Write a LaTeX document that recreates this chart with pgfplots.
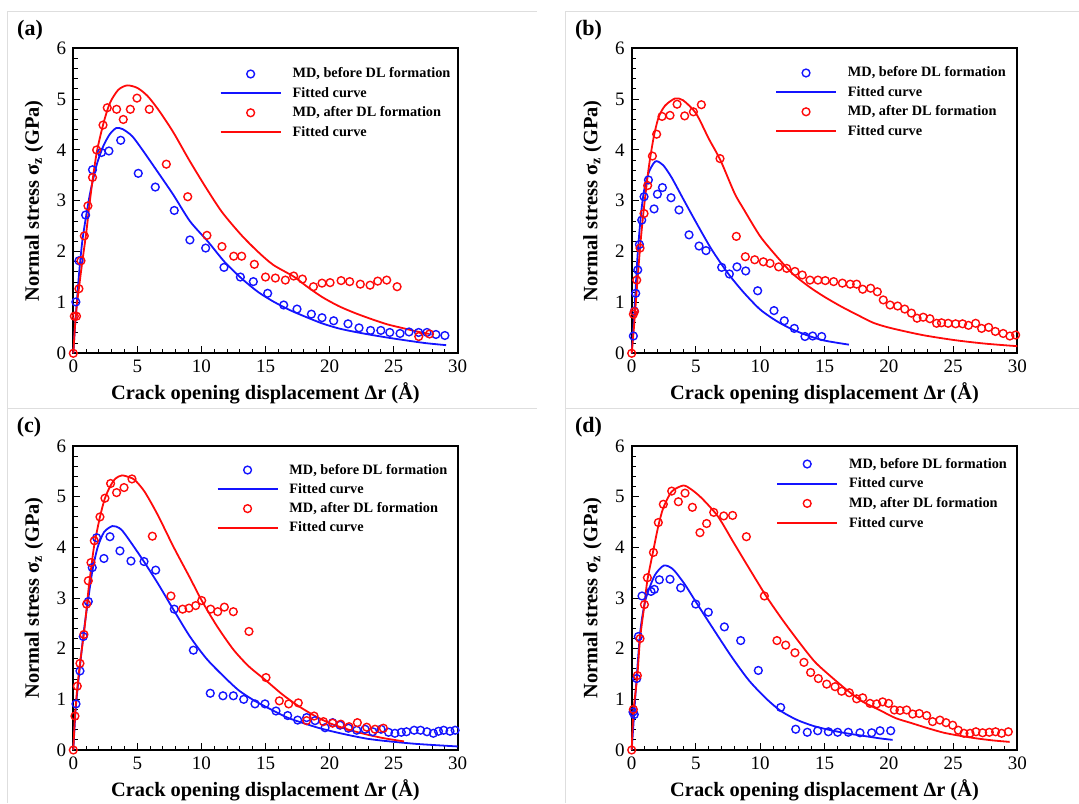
\documentclass[border=0pt]{standalone}
\usepackage{fontspec}
\setmainfont{Liberation Serif}
\usepackage{pgfplots}
\pgfplotsset{compat=1.18}
\definecolor{mdblue}{RGB}{20,20,255}
\definecolor{mdred}{RGB}{255,10,10}
\definecolor{framegray}{RGB}{222,222,222}
\pgfplotsset{
  panel/.style={
    scale only axis,
    xmin=0, xmax=30, ymin=0, ymax=6,
    xtick={0,5,...,30}, ytick={0,1,...,6},
    minor x tick num=4, minor y tick num=4,
    xtick pos=bottom, ytick pos=left,
    tick align=inside,
    major tick length=3.5pt, minor tick length=2.2pt,
    tick style={black, line width=0.5pt},
    axis line style={line width=0.95pt},
    clip=false,
    /pgf/number format/assume math mode=true,
    tick label style={font=\fontsize{9.5}{10}\selectfont},
    xlabel={Crack opening displacement Δr (Å)},
    ylabel={Normal stress σ\textsubscript{z} (GPa)},
    xlabel style={at={(axis description cs:0.5,-0.131)}, anchor=center, font=\fontsize{10.2}{12}\bfseries\selectfont},
    ylabel style={at={(axis description cs:-0.102,0.5)}, anchor=center, font=\fontsize{10.2}{12}\bfseries\selectfont},
    legend cell align=left,
    legend style={draw=none, fill=none, inner sep=0pt, outer sep=0pt, anchor=north west,
      row sep=2.7pt, font=\fontsize{7.15}{8}\bfseries\selectfont,
      nodes={inner sep=0pt, text height=5.5pt, text depth=1.5pt},
      /tikz/column 1/.style={column sep=5.5pt}},
  },
  mdpts/.style={only marks, mark=o, mark size=1.95pt, mark options={line width=0.7pt},
    legend image code/.code={\draw[mark repeat=2,mark phase=2,##1] plot coordinates {(0pt,0pt)(15pt,0pt)(30pt,0pt)};}},
  fitc/.style={no marks, line width=0.9pt, smooth, tension=0.45,
    legend image code/.code={\draw[##1, line width=0.9pt] (0pt,0pt) -- (30pt,0pt);}},
}
\begin{document}
\begin{tikzpicture}[x=0.5pt,y=0.5pt]
\useasboundingbox (0,0) rectangle (1079,803);
\draw[framegray, line width=0.5pt] (7,0) -- (7,791) -- (537,791);
\draw[framegray, line width=0.5pt] (7,394) -- (537,394);
\draw[framegray, line width=0.5pt] (565.7,0) -- (565.7,791) -- (1079,791);
\draw[framegray, line width=0.5pt] (565.7,394) -- (1079,394);
\node[font=\fontsize{11}{12}\bfseries\selectfont] at (30,773) {(a)};
\node[font=\fontsize{11}{12}\bfseries\selectfont] at (588.5,773) {(b)};
\node[font=\fontsize{11}{12}\bfseries\selectfont] at (29,376) {(c)};
\node[font=\fontsize{11}{12}\bfseries\selectfont] at (588.5,376) {(d)};

% ---------------- (a)
\begin{axis}[panel, at={(36.65pt,224.85pt)}, anchor=south west, width=192.2pt, height=152.5pt,
  legend style={at={(axis description cs:0.381,0.9387)}}]
\addplot[mdpts, mdblue] coordinates {(0.2,1.01) (0.44,1.82) (0.96,2.72) (1.5,3.61) (2.2,3.95) (2.78,3.98) (3.7,4.19) (5.07,3.54) (6.4,3.27) (7.88,2.81) (9.1,2.23) (10.33,2.07) (11.76,1.69) (13.04,1.5) (14.05,1.41) (15.17,1.18) (16.42,0.95) (17.46,0.87) (18.58,0.77) (19.41,0.7) (20.32,0.64) (21.44,0.58) (22.3,0.5) (23.2,0.45) (24.0,0.45) (24.7,0.41) (25.5,0.39) (26.2,0.42) (26.95,0.41) (27.6,0.41) (28.3,0.37) (29.0,0.35)};
\addlegendentry{MD, before DL formation}
\addplot[fitc, mdblue] coordinates {(0,0) (0.13,0.52) (0.25,0.92) (0.45,1.57) (0.7,2.2) (1.0,2.7) (1.35,3.2) (1.85,3.73) (2.35,4.08) (2.85,4.31) (3.35,4.43) (3.85,4.41) (4.6,4.27) (5.4,4.0) (6.5,3.6) (7.8,3.12) (9.1,2.6) (10.5,2.2) (11.8,1.8) (13.1,1.48) (14.4,1.21) (15.6,1.02) (16.9,0.85) (18.2,0.71) (19.4,0.59) (20.7,0.49) (22,0.42) (23.3,0.36) (24.5,0.31) (25.8,0.26) (27.5,0.2) (29.1,0.16)};
\addlegendentry{Fitted curve}
\addplot[mdpts, mdred] coordinates {(0,0) (0.08,0.73) (0.25,0.73) (0.44,1.27) (0.6,1.82) (0.86,2.31) (1.14,2.9) (1.5,3.46) (1.82,4.0) (2.32,4.49) (2.65,4.83) (3.38,4.8) (3.9,4.6) (4.45,4.8) (4.97,5.02) (5.93,4.8) (7.26,3.72) (8.93,3.08) (10.43,2.32) (11.6,2.1) (12.52,1.91) (13.14,1.91) (14.13,1.75) (15.0,1.5) (15.77,1.48) (16.55,1.44) (17.2,1.52) (17.88,1.46) (18.74,1.31) (19.41,1.38) (20.04,1.39) (20.9,1.43) (21.57,1.41) (22.4,1.36) (23.16,1.34) (23.76,1.42) (24.46,1.44) (25.27,1.31) (26.96,0.33) (27.8,0.38)};
\addlegendentry{MD, after DL formation}
\addplot[fitc, mdred] coordinates {(0,0) (0.15,0.6) (0.3,1.0) (0.45,1.3) (0.7,1.8) (1.0,2.35) (1.25,2.9) (1.5,3.4) (1.85,3.98) (2.35,4.52) (2.85,4.92) (3.5,5.18) (4.2,5.27) (5.0,5.22) (5.8,5.06) (6.7,4.77) (7.8,4.35) (9.0,3.82) (10.3,3.28) (11.6,2.78) (13.1,2.33) (14.4,2.0) (15.6,1.74) (17.2,1.51) (18.2,1.32) (19.4,1.11) (20.7,0.93) (22,0.79) (23.3,0.67) (24.5,0.57) (25.8,0.49) (26.8,0.43) (27.8,0.38)};
\addlegendentry{Fitted curve}
\end{axis}

% ---------------- (b)
\begin{axis}[panel, at={(315.85pt,224.85pt)}, anchor=south west, width=192.8pt, height=152.5pt,
  legend style={at={(axis description cs:0.372,0.942)}}]
\addplot[mdpts, mdblue] coordinates {(0.13,0.34) (0.21,0.83) (0.31,1.18) (0.47,1.64) (0.6,2.14) (0.78,2.62) (0.96,3.08) (1.3,3.41) (1.74,2.84) (2.0,3.13) (2.39,3.26) (3.06,3.06) (3.68,2.82) (4.46,2.33) (5.24,2.11) (5.78,2.02) (7.0,1.69) (7.6,1.56) (8.19,1.7) (8.87,1.62) (9.8,1.23) (11.07,0.84) (11.87,0.64) (12.65,0.49) (13.48,0.33) (14.08,0.34) (14.78,0.33)};
\addlegendentry{MD, before DL formation}
\addplot[fitc, mdblue] coordinates {(0,0) (0.2,0.78) (0.45,1.9) (0.7,2.68) (0.96,3.2) (1.33,3.56) (1.71,3.74) (1.95,3.78) (2.45,3.7) (3.1,3.46) (4.0,3.04) (5.0,2.58) (6.2,2.05) (7.5,1.57) (8.7,1.2) (10,0.86) (11.3,0.63) (12.5,0.47) (13.8,0.34) (15,0.25) (16.9,0.17)};
\addlegendentry{Fitted curve}
\addplot[mdpts, mdred] coordinates {(0,0) (0.13,0.77) (0.21,0.82) (0.39,1.44) (0.65,2.07) (0.96,2.75) (1.24,3.3) (1.61,3.88) (1.94,4.31) (2.36,4.66) (2.98,4.68) (3.53,4.9) (4.12,4.67) (4.8,4.75) (5.42,4.89) (6.87,3.83) (8.14,2.3) (8.84,1.9) (9.57,1.84) (10.24,1.8) (10.76,1.77) (11.43,1.7) (12.06,1.67) (12.7,1.61) (13.27,1.54) (13.87,1.44) (14.49,1.44) (15.06,1.43) (15.71,1.41) (16.39,1.38) (17.0,1.36) (17.5,1.36) (17.97,1.26) (18.59,1.28) (19.11,1.21) (19.57,1.05) (20.1,0.95) (20.69,0.93) (21.24,0.87) (21.76,0.79) (22.2,0.69) (22.68,0.71) (23.2,0.68) (23.72,0.59) (24.1,0.6) (24.62,0.59) (25.2,0.58) (25.74,0.58) (26.2,0.55) (26.76,0.59) (27.22,0.49) (27.77,0.51) (28.29,0.43) (28.9,0.39) (29.42,0.34) (29.87,0.36)};
\addlegendentry{MD, after DL formation}
\addplot[fitc, mdred] coordinates {(0,0) (0.2,0.59) (0.45,1.44) (0.7,2.22) (0.96,2.88) (1.33,3.66) (1.71,4.25) (2.09,4.64) (2.59,4.87) (3.35,5.01) (3.98,4.98) (5.0,4.72) (6.0,4.22) (6.9,3.8) (8.0,3.15) (8.7,2.84) (10,2.3) (11.3,1.9) (12.5,1.57) (13.8,1.31) (15,1.11) (16.3,0.92) (17.6,0.75) (18.8,0.6) (20.1,0.5) (22.6,0.36) (25.1,0.26) (27.5,0.19) (30,0.14)};
\addlegendentry{Fitted curve}
\end{axis}

% ---------------- (c)
\begin{axis}[panel, at={(36.65pt,26.5pt)}, anchor=south west, width=192.2pt, height=152pt,
  legend style={at={(axis description cs:0.373,0.944)}, row sep=2.65pt}]
\addplot[mdpts, mdblue] coordinates {(0.21,0.91) (0.52,1.56) (0.78,2.24) (1.17,2.93) (1.48,3.6) (1.82,4.19) (2.39,3.78) (2.86,4.21) (3.64,3.93) (4.5,3.73) (5.52,3.72) (6.43,3.55) (7.88,2.78) (9.37,1.97) (10.69,1.12) (11.68,1.07) (12.49,1.07) (13.3,1.0) (14.18,0.91) (14.96,0.91) (15.82,0.77) (16.73,0.68) (17.51,0.59) (18.21,0.64) (18.87,0.58) (19.65,0.44) (20.24,0.54) (20.82,0.49) (21.47,0.43) (22.12,0.39) (22.77,0.41) (23.37,0.36) (24.02,0.41) (24.6,0.35) (25.1,0.33) (25.6,0.35) (26.0,0.36) (26.6,0.39) (27.1,0.39) (27.6,0.36) (28.1,0.33) (28.5,0.37) (28.9,0.39) (29.4,0.37) (29.8,0.39)};
\addlegendentry{MD, before DL formation}
\addplot[fitc, mdblue] coordinates {(0,0) (0.2,0.85) (0.5,1.6) (0.8,2.3) (1.15,2.95) (1.5,3.55) (1.9,4.0) (2.4,4.3) (3.05,4.42) (3.6,4.38) (4.04,4.26) (5.3,3.8) (6.57,3.3) (7.84,2.76) (9.1,2.24) (10.37,1.81) (11.63,1.48) (12.9,1.18) (14.16,0.97) (15.43,0.8) (16.7,0.64) (17.96,0.53) (19.23,0.43) (20.5,0.35) (21.76,0.28) (23,0.22) (24.29,0.18) (26.8,0.12) (30,0.07)};
\addlegendentry{Fitted curve}
\addplot[mdpts, mdred] coordinates {(0,0) (0.13,0.67) (0.31,1.26) (0.52,1.71) (0.83,2.28) (1.04,2.88) (1.17,3.34) (1.38,3.7) (1.64,4.13) (2.08,4.6) (2.47,4.97) (2.91,5.26) (3.38,5.08) (3.96,5.18) (4.58,5.35) (6.17,4.22) (7.62,3.04) (8.53,2.78) (9.03,2.8) (9.55,2.85) (10.02,2.95) (10.72,2.78) (11.27,2.73) (11.79,2.82) (12.49,2.73) (13.71,2.34) (15.04,1.43) (16.08,0.97) (16.81,0.91) (17.56,0.93) (18.21,0.58) (18.79,0.67) (19.52,0.56) (20.24,0.53) (20.87,0.51) (21.52,0.46) (22.17,0.54) (22.9,0.45) (23.55,0.41) (24.2,0.43)};
\addlegendentry{MD, after DL formation}
\addplot[fitc, mdred] coordinates {(0,0) (0.13,0.67) (0.31,1.22) (0.52,1.71) (0.83,2.3) (1.04,2.8) (1.2,3.2) (1.4,3.6) (1.64,4.05) (2.08,4.6) (2.47,4.97) (2.91,5.22) (3.3,5.36) (3.8,5.42) (4.4,5.38) (4.8,5.33) (5.56,5.1) (6.57,4.65) (7.84,4.0) (9.1,3.4) (10,2.96) (11.2,2.45) (12.5,1.98) (13.7,1.65) (15,1.38) (16.3,1.1) (17.5,0.88) (18.8,0.68) (20,0.53) (21.5,0.4) (23,0.3) (24.3,0.23) (25.8,0.17)};
\addlegendentry{Fitted curve}
\end{axis}

% ---------------- (d)
\begin{axis}[panel, at={(315.85pt,26.5pt)}, anchor=south west, width=192.8pt, height=152pt,
  legend style={at={(axis description cs:0.375,0.9638)}, row sep=2.85pt}]
\addplot[mdpts, mdblue] coordinates {(0.1,0.75) (0.2,0.7) (0.39,1.41) (0.52,2.24) (0.8,3.04) (1.5,3.13) (1.76,3.17) (2.15,3.36) (2.98,3.37) (3.81,3.2) (4.98,2.88) (5.96,2.72) (7.21,2.43) (8.48,2.16) (9.85,1.57) (11.59,0.84) (12.76,0.41) (13.66,0.35) (14.47,0.38) (15.3,0.36) (16.02,0.35) (16.85,0.35) (17.76,0.34) (18.67,0.34) (19.32,0.38) (20.15,0.38)};
\addlegendentry{MD, before DL formation}
\addplot[fitc, mdblue] coordinates {(0,0) (0.2,0.75) (0.39,1.45) (0.65,2.3) (0.9,2.75) (1.17,3.05) (1.8,3.45) (2.5,3.64) (3.2,3.57) (4.1,3.28) (5.1,2.88) (6.5,2.33) (7.8,1.83) (9.1,1.38) (10.4,1.03) (11.6,0.77) (12.9,0.59) (14.2,0.47) (15.5,0.39) (16.7,0.33) (18,0.28) (19.3,0.23) (20.3,0.2)};
\addlegendentry{Fitted curve}
\addplot[mdpts, mdred] coordinates {(0,0) (0.13,0.8) (0.44,1.47) (0.65,2.2) (0.99,2.87) (1.22,3.4) (1.69,3.9) (2.07,4.49) (2.46,4.85) (3.11,5.11) (3.63,4.9) (4.15,5.07) (4.72,4.79) (5.31,4.29) (5.83,4.47) (6.38,4.69) (7.16,4.62) (7.85,4.63) (8.92,4.21) (10.32,3.04) (11.3,2.16) (11.98,2.07) (12.7,1.92) (13.4,1.73) (13.92,1.53) (14.52,1.41) (15.17,1.3) (15.82,1.25) (16.33,1.16) (16.93,1.13) (17.5,1.01) (17.97,1.03) (18.54,0.92) (19.06,0.91) (19.52,0.95) (19.99,0.92) (20.43,0.79) (20.87,0.78) (21.39,0.79) (21.86,0.71) (22.37,0.72) (22.95,0.68) (23.41,0.56) (23.98,0.59) (24.45,0.54) (24.97,0.49) (25.41,0.39) (25.85,0.33) (26.32,0.33) (26.78,0.36) (27.3,0.34) (27.82,0.35) (28.31,0.36) (28.78,0.33) (29.3,0.36)};
\addlegendentry{MD, after DL formation}
\addplot[fitc, mdred] coordinates {(0,0) (0.13,0.75) (0.44,1.47) (0.65,2.2) (0.99,2.87) (1.22,3.35) (1.69,3.95) (2.07,4.42) (2.46,4.78) (3.11,5.1) (4.0,5.22) (4.6,5.15) (5.45,4.97) (6.71,4.61) (7.96,4.08) (9.22,3.55) (10.48,3.03) (11.73,2.57) (12.99,2.14) (14.25,1.74) (15.5,1.45) (16.76,1.18) (18.0,0.95) (19.27,0.79) (20.53,0.63) (21.78,0.53) (23.04,0.43) (24.3,0.34) (25.55,0.28) (26.8,0.23) (28.07,0.19) (29.4,0.16)};
\addlegendentry{Fitted curve}
\end{axis}
\end{tikzpicture}
\end{document}
